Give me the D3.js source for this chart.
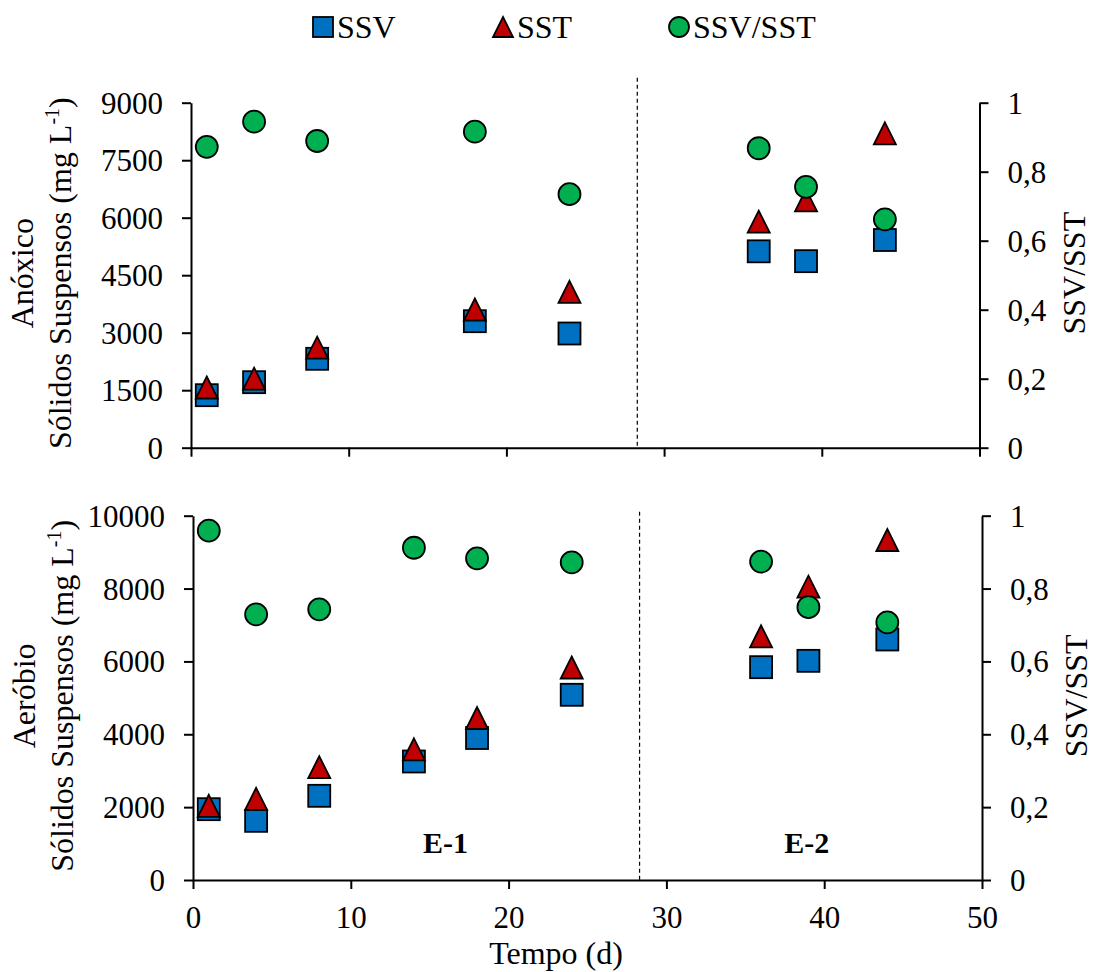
<!DOCTYPE html>
<html>
<head>
<meta charset="utf-8">
<script src="https://cdn.jsdelivr.net/npm/d3@7"></script>
<style>
  html, body { margin: 0; padding: 0; background: #fff; }
  svg { display: block; font-family: "Liberation Serif", "Times New Roman", serif; }
</style>
</head>
<body>
<svg id="chart" width="1094" height="972"></svg>
<script>
// ---------- data ----------
const seriesNames = ["SSV", "SST", "SSV/SST"];
const seriesColors = ["#0070C0", "#C00000", "#00B050"];

// Anóxico (top panel)
const daysAnox = [1, 4, 8, 18, 24, 36, 39, 44];
const ssvAnox = [1370, 1709, 2319, 3300, 2979, 5123, 4866, 5418];
const sstAnox = [1570, 1800, 2609, 3605, 4067, 5896, 6454, 8202];
const ratioAnox = [0.872, 0.945, 0.889, 0.916, 0.735, 0.868, 0.756, 0.662];

// Aeróbio (bottom panel)
const daysAer = [1, 4, 8, 14, 18, 24, 36, 39, 44];
const ssvAer = [1944, 1624, 2311, 3253, 3898, 5084, 5842, 6016, 6602];
const sstAer = [2036, 2228, 3097, 3587, 4447, 5833, 6689, 8051, 9333];
const ratioAer = [0.959, 0.729, 0.743, 0.912, 0.883, 0.872, 0.874, 0.749, 0.707];

const xTicks = [0, 10, 20, 30, 40, 50];
const yTicksAnox = [0, 1500, 3000, 4500, 6000, 7500, 9000];
const yTicksAer = [0, 2000, 4000, 6000, 8000, 10000];
const ratioTicks = [0, 0.2, 0.4, 0.6, 0.8, 1];
const phaseBoundary = 28.3;
const phaseLabels = [{ text: "E-1", x: 16.0 }, { text: "E-2", x: 38.9 }];
const phaseLabelY = 740;

// ---------- drawing ----------
const svg = d3.select("#chart");
const TICK_FS = 31, TITLE_FS = 32;

function marker(g, type, cx, cy, color, size) {
  const h = size / 2;
  if (type === 0) {
    g.append("rect").attr("x", cx - h).attr("y", cy - h).attr("width", size).attr("height", size)
      .attr("fill", color).attr("stroke", "#000").attr("stroke-width", 1.8);
  } else if (type === 1) {
    g.append("path").attr("d", `M${cx},${cy - h}L${cx + h},${cy + h}L${cx - h},${cy + h}Z`)
      .attr("fill", color).attr("stroke", "#000").attr("stroke-width", 1.8).attr("stroke-linejoin", "miter");
  } else {
    g.append("circle").attr("cx", cx).attr("cy", cy).attr("r", h)
      .attr("fill", color).attr("stroke", "#000").attr("stroke-width", 1.8);
  }
}

function styleAxis(g) {
  g.selectAll("path.domain").attr("stroke", "#000").attr("stroke-width", 2);
  g.selectAll(".tick line").attr("stroke", "#000").attr("stroke-width", 2);
  g.selectAll(".tick text").attr("fill", "#000").attr("font-size", TICK_FS)
    .attr("font-family", "Liberation Serif, Times New Roman, serif");
}

function panel(opts) {
  const { left, right, top, bottom, yMax, yTicks, days, ssv, sst, ratio, line1, showX } = opts;
  const x = d3.scaleLinear().domain([0, 50]).range([left, right]);
  const y = d3.scaleLinear().domain([0, yMax]).range([bottom, top]);
  const yr = d3.scaleLinear().domain([0, 1]).range([bottom, top]);
  const g = svg.append("g");

  // dashed phase boundary
  g.append("line")
    .attr("x1", x(phaseBoundary)).attr("x2", x(phaseBoundary))
    .attr("y1", y(yMax) - opts.dashExtra).attr("y2", y(0))
    .attr("stroke", "#000").attr("stroke-width", 1.2).attr("stroke-dasharray", "4,3");

  // axes
  const ax = g.append("g").attr("transform", `translate(0,${bottom})`)
    .call(d3.axisBottom(x).tickValues(xTicks).tickSize(9).tickSizeOuter(0).tickPadding(17)
      .tickFormat(showX ? d3.format("d") : () => ""));
  styleAxis(ax);
  const ayl = g.append("g").attr("transform", `translate(${left},0)`)
    .call(d3.axisLeft(y).tickValues(yTicks).tickSize(9).tickSizeOuter(0).tickPadding(19)
      .tickFormat(d3.format("d")));
  styleAxis(ayl);
  const ayr = g.append("g").attr("transform", `translate(${right},0)`)
    .call(d3.axisRight(yr).tickValues(ratioTicks).tickSize(9).tickSizeOuter(0).tickPadding(19)
      .tickFormat(d => String(+d.toFixed(1)).replace(".", ",")));
  styleAxis(ayr);
  ayl.selectAll(".tick text").attr("dy", "0.34em");
  ayr.selectAll(".tick text").attr("dy", "0.34em");

  // markers: squares, triangles, circles (circles on top)
  const mg = g.append("g");
  days.forEach((d, i) => marker(mg, 0, x(d), y(ssv[i]), seriesColors[0], 22));
  days.forEach((d, i) => marker(mg, 1, x(d), y(sst[i]), seriesColors[1], 22));
  days.forEach((d, i) => marker(mg, 2, x(d), yr(ratio[i]), seriesColors[2], 22));

  // left titles
  const cy = (top + bottom) / 2 - 2;
  g.append("text").attr("transform", `translate(${opts.titleX1},${cy}) rotate(-90)`)
    .attr("text-anchor", "middle").attr("font-size", TITLE_FS).text(line1);
  const t2 = g.append("text").attr("transform", `translate(${opts.titleX2},${cy}) rotate(-90)`)
    .attr("text-anchor", "middle").attr("font-size", TITLE_FS);
  t2.append("tspan").text("Sólidos Suspensos (mg L");
  t2.append("tspan").attr("font-size", 20).attr("dy", -12).text("-1");
  t2.append("tspan").attr("dy", 12).text(")");

  // right title
  g.append("text").attr("transform", `translate(${opts.rTitleX},${cy}) rotate(-90)`)
    .attr("text-anchor", "middle").attr("font-size", TITLE_FS).text("SSV/SST");

  return { x, y, g };
}

panel({
  left: 191, right: 979.5, top: 102.7, bottom: 447.7, yMax: 9000, yTicks: yTicksAnox,
  days: daysAnox, ssv: ssvAnox, sst: sstAnox, ratio: ratioAnox, line1: "Anóxico", showX: false,
  titleX1: 33, titleX2: 71, rTitleX: 1085, dashExtra: 25
});

const bot = panel({
  left: 193, right: 982, top: 515.7, bottom: 880, yMax: 10000, yTicks: yTicksAer,
  days: daysAer, ssv: ssvAer, sst: sstAer, ratio: ratioAer, line1: "Aeróbio", showX: true,
  titleX1: 35, titleX2: 73, rTitleX: 1087, dashExtra: 4
});

// phase labels
phaseLabels.forEach(p => {
  bot.g.append("text").attr("x", bot.x(p.x)).attr("y", bot.y(phaseLabelY))
    .attr("text-anchor", "middle").attr("font-size", 30).attr("font-weight", "bold").text(p.text);
});

// x title
svg.append("text").attr("x", 556).attr("y", 964).attr("text-anchor", "middle")
  .attr("font-size", TITLE_FS).text("Tempo (d)");

// legend
const legendX = [323, 503, 679];
const lg = svg.append("g");
seriesNames.forEach((name, i) => {
  marker(lg, i, legendX[i], 27, seriesColors[i], 20);
  lg.append("text").attr("x", legendX[i] + 14).attr("y", 37.5).attr("font-size", TITLE_FS).text(name);
});
</script>
</body>
</html>
